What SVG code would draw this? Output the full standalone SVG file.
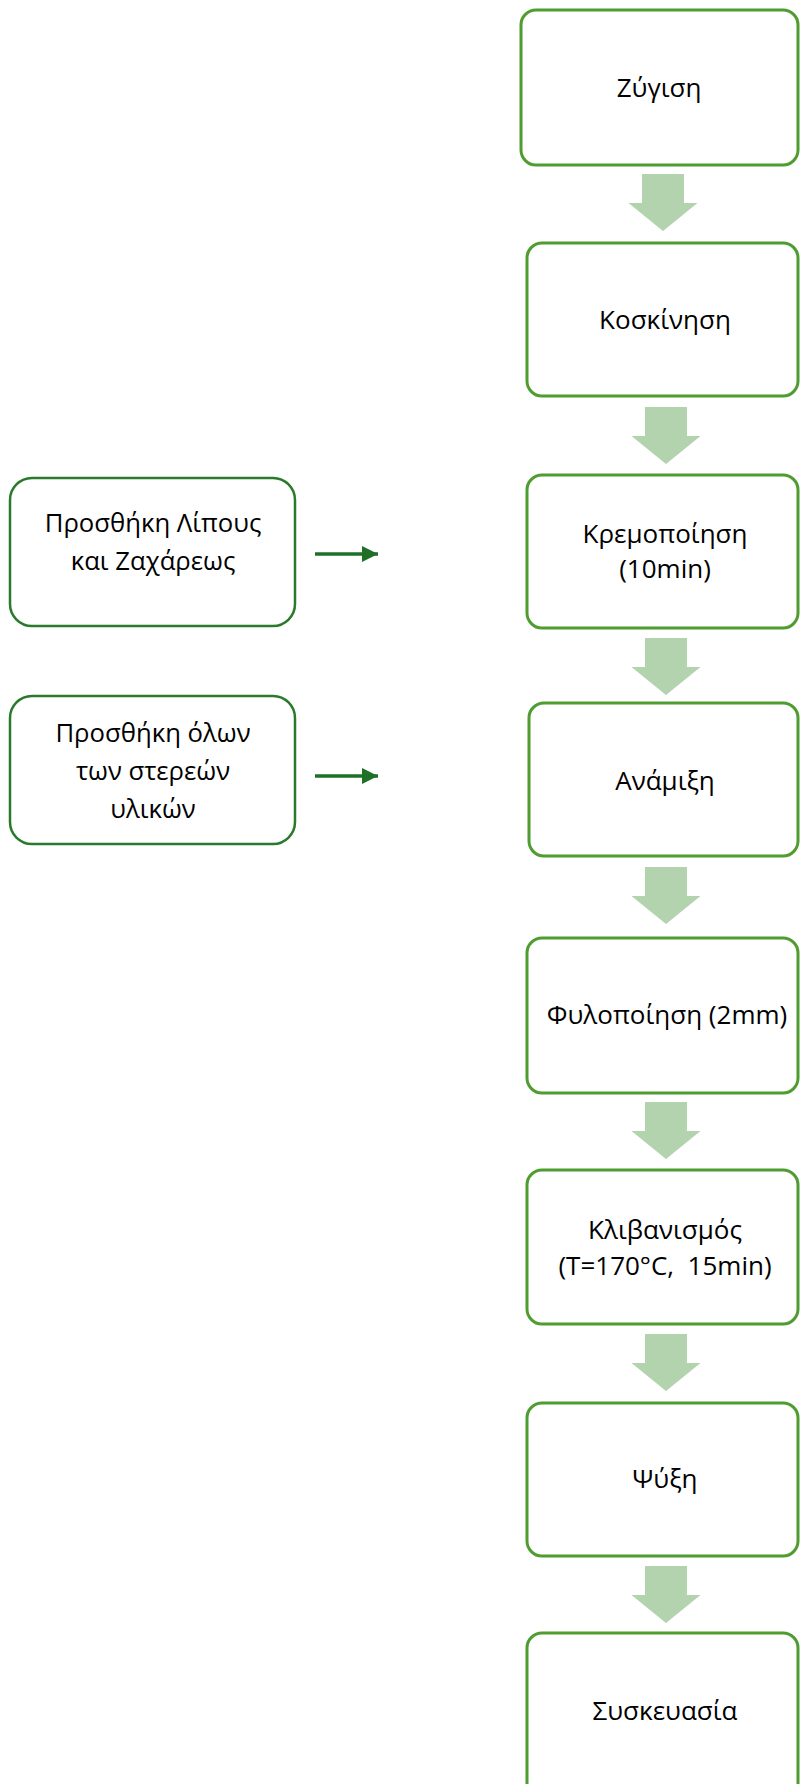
<svg xmlns="http://www.w3.org/2000/svg" width="800" height="1784" viewBox="0 0 800 1784">
<style>
.step{fill:#fff;stroke:#4f9c31;stroke-width:3}
.side{fill:#fff;stroke:#2a7a2c;stroke-width:2.5}
.flow{fill:#b3d3ae}
.t{font-family:"Open Sans","Liberation Sans",Arial,sans-serif;font-size:26px;fill:#000;text-anchor:middle}
.ts{font-family:"Open Sans","Liberation Sans",Arial,sans-serif;font-size:25.7px;fill:#000;text-anchor:middle}
.feed{stroke:#1f6f26;stroke-width:3.5;fill:none}
</style>
<defs>
<marker id="ah" markerUnits="userSpaceOnUse" markerWidth="16" markerHeight="16" viewBox="0 0 16 16" refX="16" refY="8" orient="auto">
<path d="M0,0 L16,8 L0,16 z" fill="#1f6f26"/>
</marker>
<polygon id="bigArrow" points="-21,0 21,0 21,29 34.5,29 0,57 -34.5,29 -21,29"/>
</defs>
<rect width="800" height="1784" fill="#fff"/>
<g id="connectors">
<use href="#bigArrow" class="flow" transform="translate(663,174)"/>
<use href="#bigArrow" class="flow" transform="translate(666,407)"/>
<use href="#bigArrow" class="flow" transform="translate(666,638)"/>
<use href="#bigArrow" class="flow" transform="translate(666,867)"/>
<use href="#bigArrow" class="flow" transform="translate(666,1102)"/>
<use href="#bigArrow" class="flow" transform="translate(666,1334)"/>
<use href="#bigArrow" class="flow" transform="translate(666,1566)"/>
<line class="feed" x1="315" y1="554" x2="378" y2="554" marker-end="url(#ah)"/>
<line class="feed" x1="315" y1="776" x2="378" y2="776" marker-end="url(#ah)"/>
</g>
<g id="n1"><rect class="step" x="521" y="10" width="277" height="155" rx="15"/><text class="t" x="659" y="97">Ζύγιση</text></g>
<g id="n2"><rect class="step" x="527" y="243" width="271" height="153" rx="15"/><text class="t" x="665" y="329">Κοσκίνηση</text></g>
<g id="n3"><rect class="step" x="527" y="475" width="271" height="153" rx="15"/><text class="t" x="665" y="543">Κρεμοποίηση</text><text class="t" x="665" y="578">(10min)</text></g>
<g id="n4"><rect class="step" x="529" y="703" width="269" height="153" rx="15"/><text class="t" x="665" y="790">Ανάμιξη</text></g>
<g id="n5"><rect class="step" x="527" y="938" width="271" height="155" rx="15"/><text class="t" x="667" y="1024">Φυλοποίηση (2mm)</text></g>
<g id="n6"><rect class="step" x="527" y="1170" width="271" height="154" rx="15"/><text class="t" x="665" y="1239">Κλιβανισμός</text><text class="t" x="665" y="1275">(T=170°C,&#160; 15min)</text></g>
<g id="n7"><rect class="step" x="527" y="1403" width="271" height="153" rx="15"/><text class="t" x="665" y="1488">Ψύξη</text></g>
<g id="n8"><rect class="step" x="527" y="1633" width="271" height="170" rx="15"/><text class="t" x="665" y="1720">Συσκευασία</text></g>
<g id="s1"><rect class="side" x="10" y="478" width="285" height="148" rx="22"/><text class="ts" x="153" y="532">Προσθήκη Λίπους</text><text class="ts" x="153" y="570">και Ζαχάρεως</text></g>
<g id="s2"><rect class="side" x="10" y="696" width="285" height="148" rx="22"/><text class="ts" x="153" y="742">Προσθήκη όλων</text><text class="ts" x="153" y="780">των στερεών</text><text class="ts" x="153" y="818">υλικών</text></g>
</svg>
